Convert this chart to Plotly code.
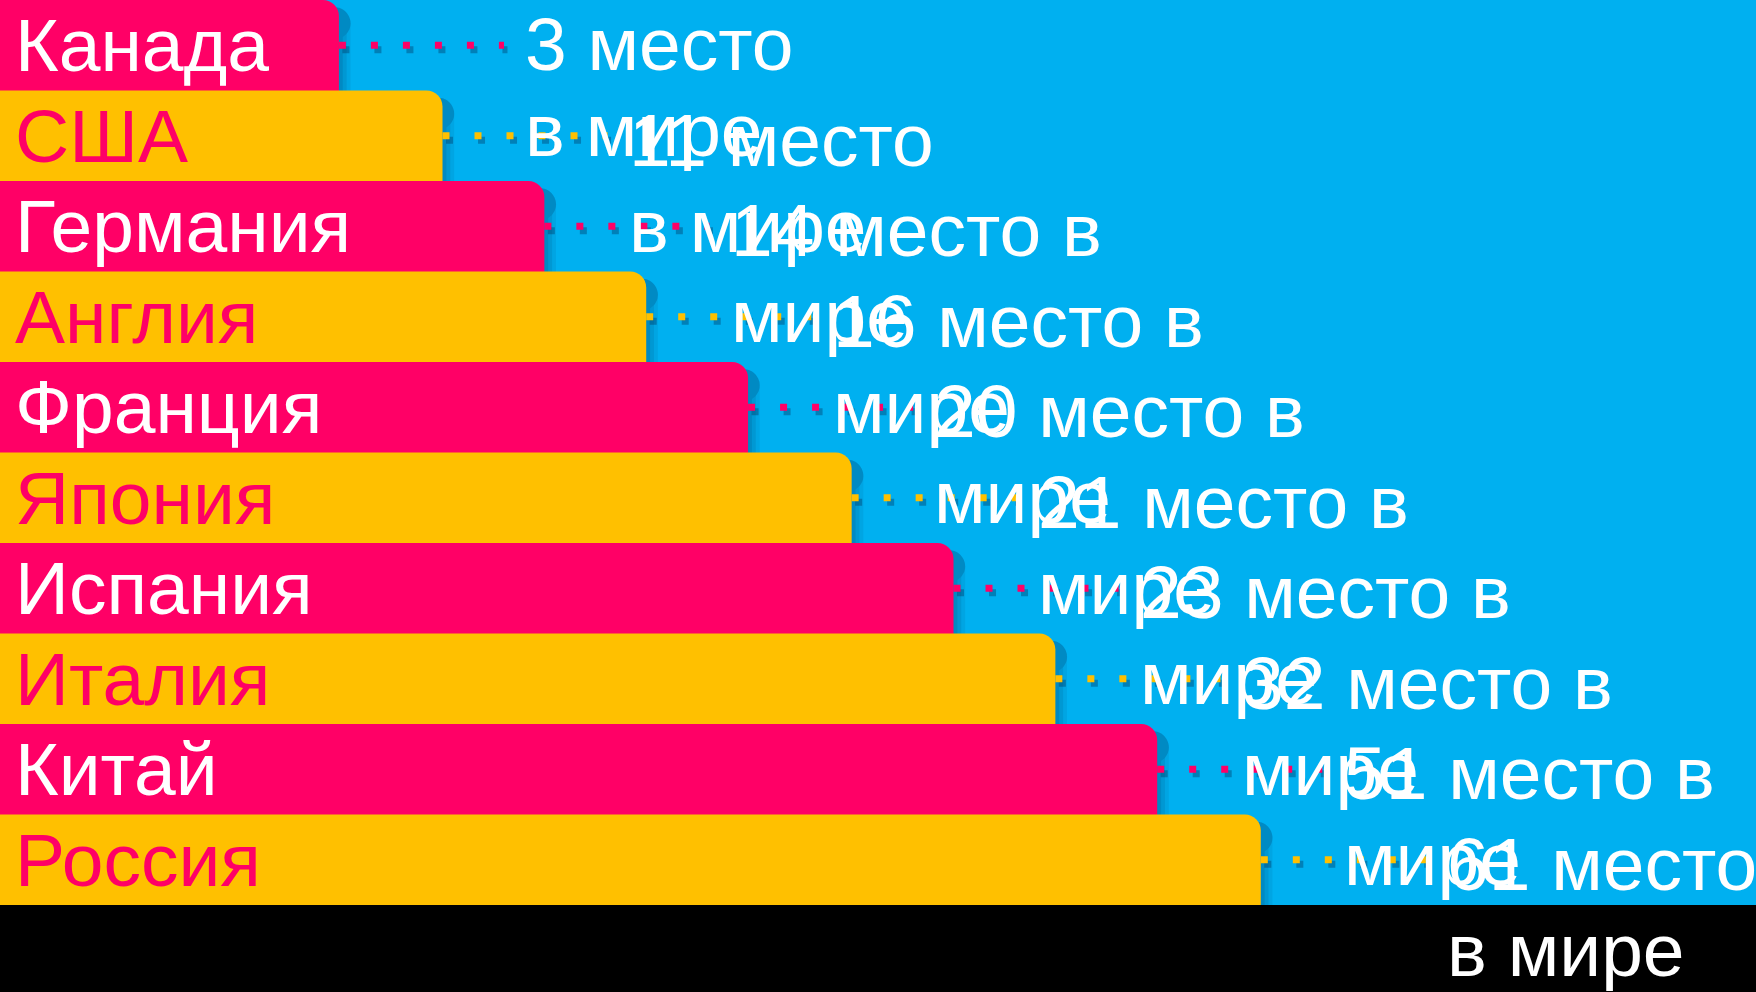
from plotly import graph_objects as go

countries = ["Канада", "США", "Германия", "Англия", "Франция",
             "Япония", "Испания", "Италия", "Китай", "Россия"]
bar_len = [19.3, 25.2, 31.0, 36.8, 42.6, 48.5, 54.3, 60.1, 65.9, 71.8]
ranks = [3, 11, 14, 16, 20, 21, 23, 32, 51, 61]
# how each label wraps in the original text box
line1 = ["3 место", "11 место", "14 место в", "16 место в", "20 место в",
         "21 место в", "23 место в", "32 место в", "51 место в", "61 место"]
line2 = ["в мире", "в мире", "мире", "мире", "мире",
         "мире", "мире", "мире", "мире", "в мире"]

PINK = "#FF0066"
GOLD = "#FFC000"
BLUE = "#00B0F0"
FONT = "Liberation Sans, Arial, sans-serif"
FS = 75

rows = list(range(len(countries)))
bar_colors = [PINK if i % 2 == 0 else GOLD for i in rows]
name_colors = ["white" if i % 2 == 0 else PINK for i in rows]

LABEL_DX = 10.5   # gap between bar end and label, x units
DOTS_DX = 9.4

fig = go.Figure()

# soft shadow to the right of each bar
for k, a in enumerate([0.08, 0.10, 0.12]):
    d = (3 - k) * 0.22
    fig.add_trace(go.Bar(
        orientation="h", y=rows, x=[v + d for v in bar_len],
        width=1.25, offset=-0.5 + 0.08,
        marker=dict(color="rgba(0,40,80,%s)" % a, cornerradius=16, line_width=0),
        hoverinfo="skip"))

fig.add_trace(go.Bar(
    orientation="h", y=rows, x=bar_len,
    width=1.25, offset=-0.5,
    marker=dict(color=bar_colors, cornerradius=16, line_width=0),
    hoverinfo="skip"))

# dotted leaders
for i in rows:
    v = bar_len[i]
    fig.add_trace(go.Scatter(
        x=[v + 0.2, v + DOTS_DX + 0.2], y=[i + 0.05, i + 0.05], mode="lines",
        line=dict(color="rgba(0,40,80,0.35)", width=7, dash="7px,25px"),
        hoverinfo="skip"))
    fig.add_trace(go.Scatter(
        x=[v, v + DOTS_DX], y=[i, i], mode="lines",
        line=dict(color=bar_colors[i], width=7, dash="7px,25px"),
        hoverinfo="skip"))

for i in rows:
    lift = 5 if i == 0 else 0   # top text box sits against the slide edge
    fig.add_annotation(x=0, y=i, xref="x", yref="y", text=countries[i],
                       xanchor="left", yanchor="middle", xshift=13, yshift=0,
                       showarrow=False,
                       font=dict(family=FONT, size=FS, color=name_colors[i]))
    fig.add_annotation(x=bar_len[i] + LABEL_DX, y=i, xref="x", yref="y",
                       text=line1[i], xanchor="left", yanchor="middle",
                       yshift=-4 + lift, showarrow=False,
                       font=dict(family=FONT, size=FS, color="white"))
    fig.add_annotation(x=bar_len[i] + LABEL_DX, y=i, xref="x", yref="y",
                       text=line2[i], xanchor="left", yanchor="middle",
                       yshift=-90 + lift, showarrow=False,
                       font=dict(family=FONT, size=FS, color="white"))

fig.update_layout(
    width=1756, height=992, autosize=False,
    margin=dict(l=0, r=0, t=0, b=87, pad=0),
    paper_bgcolor="black", plot_bgcolor=BLUE,
    showlegend=False, barmode="overlay",
    xaxis=dict(range=[0, 100], visible=False, fixedrange=True),
    yaxis=dict(range=[9.5, -0.5], visible=False, fixedrange=True),
)

fig.write_html("out.html", config={"displayModeBar": False},
               post_script="document.body.style.margin='0';")
